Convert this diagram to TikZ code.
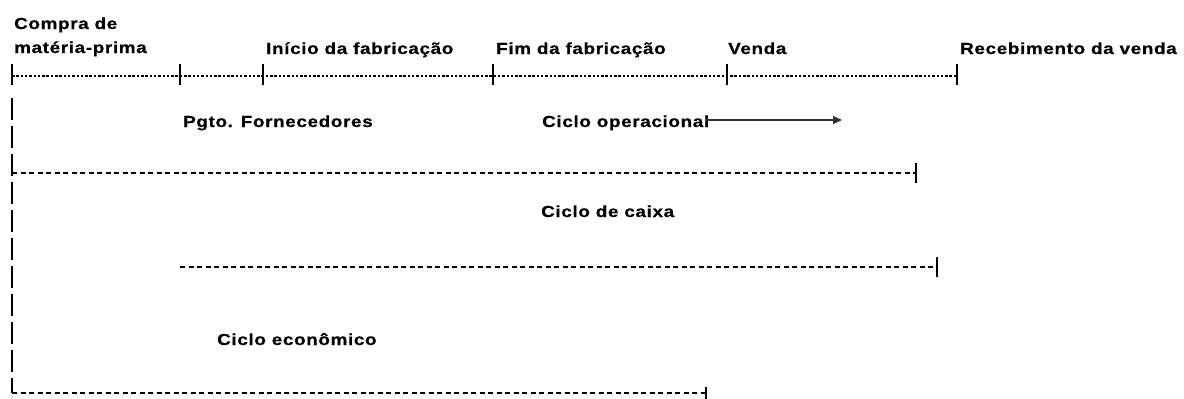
\documentclass[tikz,border=0pt]{standalone}
\usepackage{fontspec}
\setmainfont{Liberation Sans}[FakeStretch=1.18,LetterSpace=4,BoldFeatures={FakeBold=0.6}]
\usetikzlibrary{arrows.meta}
\begin{document}
\begin{tikzpicture}[x=1pt,y=-1pt,
  lbl/.style={anchor=base west,inner sep=0pt,font=\fontsize{16}{19}\selectfont\bfseries},
  dotline/.style={line width=2.2pt,dash pattern=on 2.5pt off 1.8pt},
  dashline/.style={line width=1.6pt,dash pattern=on 5pt off 3.5pt},
  vdash/.style={line width=2.4pt,dash pattern=on 22pt off 6pt},
  tickmark/.style={line width=2.6pt},
  arr/.style={line width=1.4pt,draw=black!80,-{Triangle[length=9pt,width=8pt]}}]
\useasboundingbox (0,0) rectangle (1184,399);
% labels
\node[lbl] (l1a) at (14,29) {Compra de};
\node[lbl] (l1) at (14,53) {matéria-prima};
\node[lbl] (l2) at (266,54) {Início da fabricação};
\node[lbl] (l3) at (496,54) {Fim da fabricação};
\node[lbl] (l4) at (728,54) {Venda};
\node[lbl] (l5) at (960,54) {Recebimento da venda};
\node[lbl] (pg) at (183,127) {Pgto. Fornecedores};
\node[lbl] (co) at (542,127) {Ciclo operacional};
\node[lbl] (cc) at (541,217) {Ciclo de caixa};
\node[lbl] (ce) at (217,345) {Ciclo econômico};
% timeline coordinates
\coordinate (t0) at (12,76);
\coordinate (t1) at (180,76);
\coordinate (t2) at (263,76);
\coordinate (t3) at (493,76);
\coordinate (t4) at (727,76);
\coordinate (t5) at (957,76);
\draw[dotline] (t0) -- (t5);
\foreach \t in {t0,t1,t2,t3,t4,t5}
  \draw[tickmark] ([yshift=-9pt]\t) -- ([yshift=12pt]\t);
% left vertical
\coordinate (v0) at (12,98);
\coordinate (v1) at (12,393);
\draw[vdash] (v0) -- (v1);
% arrow
\coordinate (a0) at (706,120);
\coordinate (a1) at (842,120);
\draw[arr] (a0) -- (a1);
% dashed lines
\coordinate (d1a) at (12,173);
\coordinate (d1b) at (916,173);
\draw[dashline] (d1a) -- (d1b);
\draw[tickmark] ([yshift=-10pt]d1b) -- ([yshift=10pt]d1b);
\coordinate (d2a) at (180,267);
\coordinate (d2b) at (937,267);
\draw[dashline] (d2a) -- (d2b);
\draw[tickmark] ([yshift=-10pt]d2b) -- ([yshift=10pt]d2b);
\coordinate (d3a) at (12,393);
\coordinate (d3b) at (706,393);
\draw[dashline] (d3a) -- (d3b);
\draw[tickmark] ([yshift=-10pt]d3b) -- ([yshift=6pt]d3b);
\end{tikzpicture}
\end{document}
